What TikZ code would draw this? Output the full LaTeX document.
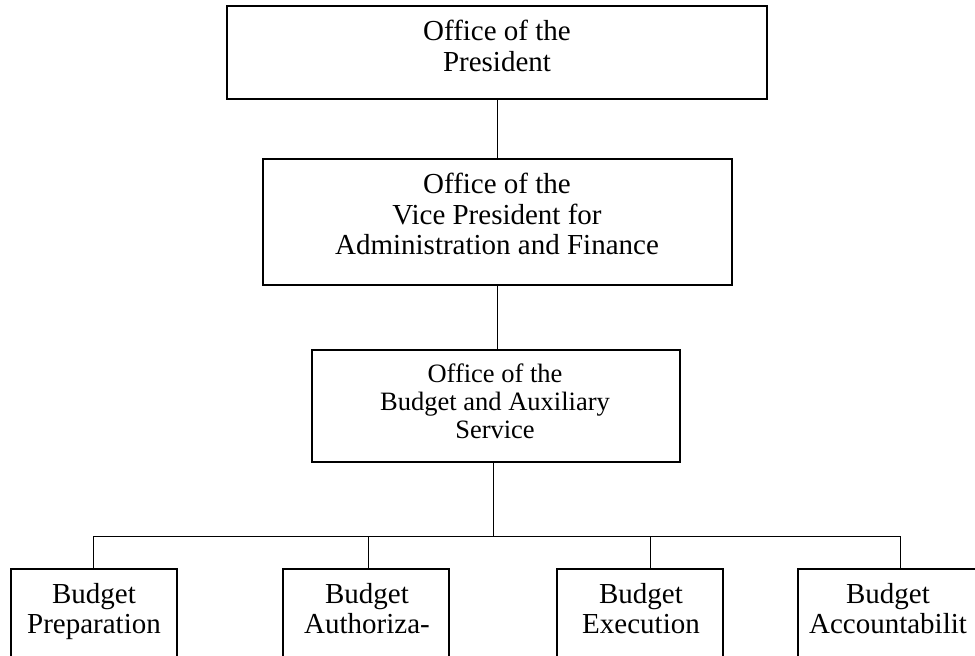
\documentclass[tikz,border=0pt]{standalone}
\usepackage{fontspec}
\setmainfont{Liberation Serif}
\begin{document}
\begin{tikzpicture}[x=1pt,y=-1pt,
  unitbox/.style={draw=black,line width=2pt,rectangle,inner sep=0pt},
  unittext/.style={align=center,inner sep=0pt,anchor=north,
    font=\fontsize{29}{30.5}\selectfont},
  smalltext/.style={unittext,font=\fontsize{26.5}{27.8}\selectfont},
  link/.style={draw=black,line width=1pt}]
  \clip (0,0) rectangle (975,656);
  \fill[white] (0,0) rectangle (975,656);

  % upper chain of offices
  \node[unitbox,minimum width=540pt,minimum height=93pt] (pres) at (497,52.5) {};
  \node[unittext] (pres-t) at (497,20.2) {Office of the\\President};

  \node[unitbox,minimum width=469pt,minimum height=126pt] (vp) at (497.5,222) {};
  \node[unittext] (vp-t) at (497,173.2) {Office of the\\Vice President for\\Administration and Finance};

  \node[unitbox,minimum width=368pt,minimum height=112pt] (bas) at (496,406) {};
  \node[smalltext] (bas-t) at (495,364) {Office of the\\Budget and Auxiliary\\Service};

  % budget sections
  \node[unitbox,minimum width=166pt,minimum height=121pt] (prep) at (94,629.5) {};
  \node[unittext] (prep-t) at (94,583) {Budget\\Preparation};

  \node[unitbox,minimum width=166pt,minimum height=121pt] (auth) at (366,629.5) {};
  \node[unittext] (auth-t) at (367,583) {Budget\\Authoriza-};

  \node[unitbox,minimum width=166pt,minimum height=121pt] (exec) at (640,629.5) {};
  \node[unittext] (exec-t) at (641,583) {Budget\\Execution};

  \node[unitbox,minimum width=180pt,minimum height=121pt] (acct) at (888,629.5) {};
  \node[unittext] (acct-t) at (888,583) {Budget\\Accountabilit};

  % connectors
  \draw[link] (pres.south) -- (pres.south |- vp.north);
  \draw[link] (vp.south) -- (vp.south |- bas.north);

  \coordinate (stem) at (493,536);
  \coordinate (d1) at (93,536);
  \coordinate (d2) at (368,536);
  \coordinate (d3) at (650,536);
  \coordinate (d4) at (900,536);

  \draw[link] (stem |- bas.south) -- (stem);
  \draw[link] (d1) -- (d4);
  \draw[link] (d1) -- (d1 |- prep.north);
  \draw[link] (d2) -- (d2 |- auth.north);
  \draw[link] (d3) -- (d3 |- exec.north);
  \draw[link] (d4) -- (d4 |- acct.north);
\end{tikzpicture}
\end{document}
